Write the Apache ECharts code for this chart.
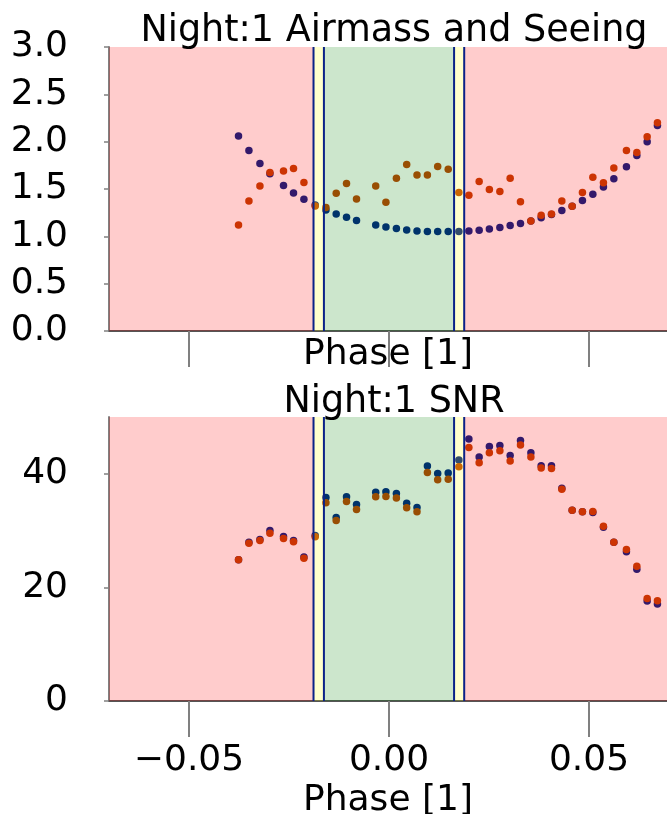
<!DOCTYPE html>
<html>
<head>
<meta charset="utf-8">
<script src="https://cdn.jsdelivr.net/npm/echarts@6/dist/echarts.min.js"></script>
<style>html,body{margin:0;padding:0;background:#fff}#c{width:667px;height:814px}</style>
</head>
<body>
<div id="c"></div>
<script>
const phase = [-0.03762,-0.03502,-0.03227,-0.02977,-0.02637,-0.02387,-0.02127,-0.01845,-0.01577,-0.01320,
  -0.01062,-0.00812,-0.00332,-0.00077,0.00185,0.00442,0.00700,0.00960,0.01217,0.01480,
  0.01747,0.01997,0.02254,0.02509,0.02772,0.03029,0.03287,0.03547,0.03804,0.04062,
  0.04321,0.04579,0.04836,0.05096,0.05361,0.05621,0.05936,0.06196,0.06454,0.06711];
const airmass = [2.061,1.907,1.770,1.660,1.537,1.459,1.392,1.332,1.279,1.237,
  1.202,1.167,1.121,1.099,1.082,1.068,1.057,1.051,1.051,1.051,
  1.051,1.057,1.064,1.078,1.093,1.114,1.135,1.163,1.195,1.230,
  1.273,1.318,1.378,1.445,1.522,1.607,1.734,1.854,1.998,2.171];
const seeing = [1.121,1.374,1.533,1.674,1.691,1.717,1.569,1.321,1.304,1.456,
  1.558,1.395,1.533,1.360,1.614,1.759,1.649,1.649,1.738,1.709,
  1.463,1.434,1.579,1.495,1.474,1.614,1.364,1.163,1.223,1.237,
  1.374,1.318,1.463,1.625,1.565,1.723,1.907,1.886,2.051,2.199];
const snrA = [24.85,27.96,28.43,30.01,28.96,28.25,25.37,29.13,35.82,32.30,
  35.95,34.59,36.77,36.83,36.53,34.83,34.07,41.36,40.06,40.12,
  42.41,46.11,42.94,44.82,45.00,43.23,45.88,43.70,41.41,41.41,
  37.47,33.60,33.30,33.19,30.60,27.96,26.26,23.20,17.62,17.09];
const snrB = [24.85,27.78,28.25,29.54,28.60,28.02,25.14,28.90,34.89,31.77,
  35.12,33.71,35.95,36.00,35.72,34.01,33.30,40.23,38.94,39.06,
  41.23,44.64,41.94,43.70,44.05,42.24,45.06,42.94,41.00,40.94,
  37.30,33.60,33.30,33.36,30.78,27.96,26.67,23.73,18.03,17.67];
const xTicks = [-0.05, 0, 0.05];
const yTicksAir = [0, 0.5, 1, 1.5, 2, 2.5, 3];
const yTicksSNR = [0, 20, 40];
const xRange = [-0.07, 0.0695];
const yMaxAir = 3, yMaxSNR = 50;
// window boundaries: pink | yellow | green | yellow | pink
const bounds = [-0.01887, -0.01627, 0.01627, 0.01880];
const titles = ['Night:1 Airmass and Seeing', 'Night:1 SNR'];
const xName = 'Phase [1]';

const FONT = 'DejaVu Sans';
const FS = 36;
const pink = 'rgba(255,0,0,0.2)', green = 'rgba(0,128,0,0.2)', yellow = 'rgba(255,255,0,0.2)';
const colA = 'rgb(0,32,134)', colB = 'rgb(192,66,4)';

function pairs(xs, ys){ return xs.map((x,i)=>[x, ys[i]]); }
function xfmt(v){ if (Math.abs(v) < 1e-9) return '0.00'; return (v<0?'\u2212':'') + Math.abs(v).toFixed(2); }

const regions = [
  [xRange[0], bounds[0], pink],
  [bounds[0], bounds[1], yellow],
  [bounds[1], bounds[2], green],
  [bounds[2], bounds[3], yellow],
  [bounds[3], xRange[1], pink]
];

function overlay(idx){
  return {
    type: 'line', xAxisIndex: idx, yAxisIndex: idx, data: [], symbol: 'none', silent: true,
    lineStyle: {width: 0}, z: 3,
    markArea: {
      silent: true, z: 3,
      data: regions.map(r => [{xAxis: r[0], itemStyle: {color: r[2]}}, {xAxis: r[1]}])
    }
  };
}
function boundLines(idx, ymax){
  return bounds.map(b => ({
    type: 'line', xAxisIndex: idx, yAxisIndex: idx, data: [[b, 0], [b, ymax]],
    symbol: 'none', silent: true, z: 5, animation: false,
    lineStyle: {color: '#0b2288', width: 2}
  }));
}

function xAxis(idx, showLabels, nameGap){
  return {
    type: 'value', gridIndex: idx, min: xRange[0], max: xRange[1],
    splitLine: {show: false},
    axisLine: {show: true, onZero: false, lineStyle: {color: '#555', width: 2}},
    axisTick: {show: true, length: 36, inside: false, customValues: xTicks, lineStyle: {color: '#808080', width: 2}},
    axisLabel: {show: showLabels, customValues: xTicks, formatter: xfmt, fontFamily: FONT, fontSize: FS, color: '#000', margin: 42},
    name: xName, nameLocation: 'middle', nameGap: nameGap,
    nameTextStyle: {fontFamily: FONT, fontSize: FS, color: '#000'}
  };
}
function yAxis(idx, max, ticks, fmt){
  return {
    type: 'value', gridIndex: idx, min: 0, max: max,
    splitLine: {show: false},
    axisLine: {show: true, onZero: false, lineStyle: {color: '#808080', width: 2}},
    axisTick: {show: true, length: 5, customValues: ticks, lineStyle: {color: '#808080', width: 1.5}},
    axisLabel: {customValues: ticks, formatter: fmt, fontFamily: FONT, fontSize: FS, color: '#000', margin: 41}
  };
}

const chart = echarts.init(document.getElementById('c'), null, {renderer: 'canvas'});
chart.setOption({
  animation: false,
  backgroundColor: '#fff',
  title: [
    {text: titles[0], left: 389, top: 8, textAlign: 'center', textStyle: {fontFamily: FONT, fontSize: 36.5, fontWeight: 'normal', color: '#000'}},
    {text: titles[1], left: 389, top: 379, textAlign: 'center', textStyle: {fontFamily: FONT, fontSize: 36.5, fontWeight: 'normal', color: '#000'}}
  ],
  grid: [
    {left: 109, top: 47, right: 0, height: 284, containLabel: false, outerBoundsMode: 'none'},
    {left: 109, top: 417, right: 0, height: 284, containLabel: false, outerBoundsMode: 'none'}
  ],
  xAxis: [xAxis(0, false, 6), xAxis(1, true, 82)],
  yAxis: [yAxis(0, yMaxAir, yTicksAir, v => v.toFixed(1)), yAxis(1, yMaxSNR, yTicksSNR, v => String(Math.round(v)))],
  series: [
    {type: 'scatter', xAxisIndex: 0, yAxisIndex: 0, data: pairs(phase, airmass), symbolSize: 7.5, itemStyle: {color: colA, opacity: 1}, z: 2},
    {type: 'scatter', xAxisIndex: 0, yAxisIndex: 0, data: pairs(phase, seeing), symbolSize: 7.5, itemStyle: {color: colB, opacity: 1}, z: 2},
    {type: 'scatter', xAxisIndex: 1, yAxisIndex: 1, data: pairs(phase, snrA), symbolSize: 7.5, itemStyle: {color: colA, opacity: 1}, z: 2},
    {type: 'scatter', xAxisIndex: 1, yAxisIndex: 1, data: pairs(phase, snrB), symbolSize: 7.5, itemStyle: {color: colB, opacity: 1}, z: 2},
    overlay(0),
    overlay(1)
  ].concat(boundLines(0, yMaxAir), boundLines(1, yMaxSNR))
});
</script>
</body>
</html>
